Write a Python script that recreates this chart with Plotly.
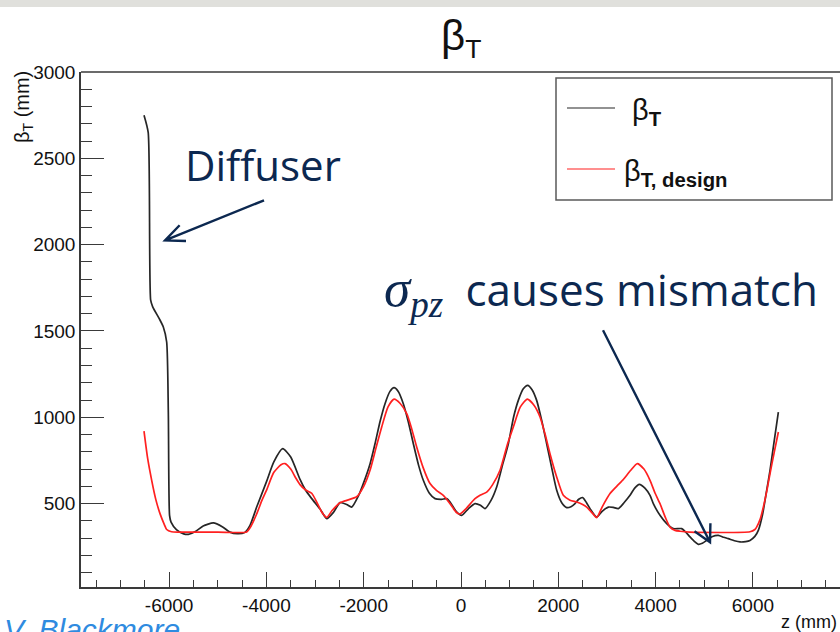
import math
import plotly.graph_objects as go

# Measured transverse beta function along the channel (z in mm, beta_T in mm)
z_beta = [
    -6516, -6430, -6379, -6337, -6200, -6119, -6050, -6016, -5990, -5960,
    -5850, -5700, -5605, -5450, -5300, -5091, -4900, -4750, -4598, -4450,
    -4337, -4200, -3994, -3850, -3665, -3500, -3309, -3200, -3069, -2900,
    -2760, -2620, -2487, -2350, -2247, -2100, -2008, -1870, -1768, -1660,
    -1562, -1460, -1377, -1290, -1186, -1080, -980, -870, -775, -650,
    -534, -400, -294, -226, -100, 14, 150, 288, 400, 493,
    620, 733, 850, 973, 1080, 1178, 1280, 1370, 1460, 1555,
    1660, 1761, 1870, 1967, 2070, 2172, 2260, 2343, 2420, 2501,
    2580, 2652, 2789, 2900, 3028, 3130, 3233, 3350, 3474, 3570,
    3665, 3780, 3885, 3953, 4090, 4228, 4364, 4536, 4620, 4707,
    4800, 4878, 4960, 5050, 5170, 5289, 5400, 5495, 5620, 5735,
    5850, 5940, 6040, 6111, 6200, 6283, 6350, 6420, 6523,
]
beta_t = [
    2750, 2650, 1678, 1640, 1570, 1523, 1436, 1030, 430, 393,
    350, 325, 322, 340, 370, 388, 365, 335, 326, 332,
    374, 480, 630, 740, 818, 770, 640, 580, 529, 470,
    413, 450, 506, 495, 480, 550, 616, 730, 847, 980,
    1079, 1150, 1172, 1150, 1079, 970, 847, 720, 635, 560,
    529, 525, 529, 509, 455, 432, 470, 500, 490, 471,
    520, 596, 720, 847, 1000, 1098, 1165, 1185, 1160, 1098,
    980, 847, 700, 577, 505, 477, 482, 500, 525, 535,
    505, 471, 422, 455, 480, 478, 471, 505, 548, 590,
    612, 590, 548, 500, 432, 384, 355, 355, 335, 307,
    280, 264, 270, 287, 310, 316, 305, 297, 285, 278,
    280, 287, 310, 345, 440, 577, 690, 828, 1030,
]

# Design transverse beta function
z_design = [
    -6516, -6440, -6358, -6270, -6187, -6100, -6050, -5950, -5800, -5000,
    -4405, -4337, -4200, -4090, -3994, -3850, -3700, -3617, -3500, -3400,
    -3309, -3200, -3069, -2950, -2860, -2760, -2650, -2487, -2349, -2144,
    -2000, -1870, -1750, -1630, -1500, -1377, -1250, -1116, -1010, -911,
    -780, -637, -500, -364, -226, -100, -21, 100, 288, 400,
    528, 650, 802, 950, 1075, 1220, 1363, 1500, 1624, 1730,
    1829, 1960, 2103, 2240, 2378, 2500, 2584, 2700, 2789, 2900,
    3063, 3200, 3336, 3480, 3624, 3760, 3885, 3990, 4090, 4200,
    4296, 4400, 4502, 4700, 5940, 6040, 6076, 6150, 6214, 6290,
    6351, 6440, 6523,
]
beta_design = [
    920, 760, 635, 520, 442, 380, 350, 337, 335, 335,
    336, 360, 440, 520, 580, 680, 725, 732, 700, 650,
    610, 580, 560, 500, 450, 420, 460, 505, 519, 540,
    600, 693, 820, 944, 1060, 1105, 1080, 1021, 930, 828,
    710, 616, 575, 548, 500, 450, 440, 470, 529, 550,
    567, 610, 693, 840, 944, 1060, 1105, 1070, 1002, 900,
    789, 660, 548, 520, 509, 495, 480, 445, 419, 480,
    558, 600, 640, 690, 732, 700, 635, 560, 500, 420,
    364, 345, 340, 335, 337, 350, 364, 410, 480, 580,
    673, 800, 915,
]

series_names = ["β<sub><b>T</b></sub>", "β<sub><b>T, design</b></sub>"]
series_colors = ["#262626", "#ff2020"]

x_ticks = [-6000, -4000, -2000, 0, 2000, 4000, 6000]
y_ticks = [500, 1000, 1500, 2000, 2500, 3000]

# Canvas and frame geometry (pixels)
W, H = 840, 632
ML, MR, MT, MB = 81, 0, 72, 45
PW, PH = W - ML - MR, H - MT - MB
X_RANGE = [-7811, 7790]
Y_RANGE = [17, 3000]

NAVY = "#0c2850"
AXC = "#3a3a3a"
FONT = "Liberation Sans"


def pxx(x):
    return (x - ML) / PW


def pxy(y):
    return (H - MB - y) / PH


fig = go.Figure()
fig.add_trace(go.Scatter(x=z_beta, y=beta_t, mode="lines", name=series_names[0],
                         line=dict(color=series_colors[0], width=1.7, shape="spline", smoothing=0.6),
                         showlegend=False))
fig.add_trace(go.Scatter(x=z_design, y=beta_design, mode="lines", name=series_names[1],
                         line=dict(color=series_colors[1], width=1.7, shape="spline", smoothing=0.6),
                         showlegend=False))

shapes = []
# slide band along the top edge
shapes.append(dict(type="rect", xref="paper", yref="paper", x0=pxx(0), x1=pxx(W),
                   y0=pxy(7), y1=pxy(0), fillcolor="#e0e0dc", line=dict(width=0), layer="below"))
# top edge of the frame
shapes.append(dict(type="line", xref="paper", yref="paper", x0=0, x1=1, y0=1, y1=1,
                   line=dict(color=AXC, width=1.5)))
# legend box and samples
shapes.append(dict(type="rect", xref="paper", yref="paper", x0=pxx(556), x1=pxx(832),
                   y0=pxy(200), y1=pxy(78), fillcolor="white", line=dict(color="#5a5a5a", width=1.5)))
for yy, col in zip([108, 169], series_colors):
    shapes.append(dict(type="line", xref="paper", yref="paper", x0=pxx(567), x1=pxx(615),
                       y0=pxy(yy), y1=pxy(yy), line=dict(color=col, width=1.2)))


def arrow(tip_x, tip_y, tail_dx, tail_dy, head=20, half_angle=26):
    back = math.atan2(tail_dy, tail_dx)
    a1 = back + math.radians(half_angle)
    a2 = back - math.radians(half_angle)
    p = (f"M{tail_dx},{tail_dy} L0,0 "
         f"M{head*math.cos(a1):.2f},{head*math.sin(a1):.2f} L0,0 "
         f"L{head*math.cos(a2):.2f},{head*math.sin(a2):.2f}")
    return dict(type="path", xref="x", yref="y", xsizemode="pixel", ysizemode="pixel",
                xanchor=tip_x, yanchor=tip_y, path=p, fillcolor="rgba(0,0,0,0)",
                line=dict(color=NAVY, width=2.4))


shapes.append(arrow(-6084, 2025, 99, 40, head=21, half_angle=24))
shapes.append(arrow(5118, 276, -107, 212, head=19, half_angle=28))

annotations = []
# title
annotations.append(dict(xref="paper", yref="paper", x=0.5, y=pxy(38), xanchor="center",
                        yanchor="middle", showarrow=False,
                        text="<span style=\"font-size:42px\">β</span><sub>T</sub>",
                        font=dict(family=FONT, size=38, color="#111111")))
# y-axis title
annotations.append(dict(xref="paper", yref="paper", x=pxx(24), y=pxy(69), xanchor="center",
                        yanchor="top", showarrow=False, textangle=-90, text="β<sub>T</sub> (mm)",
                        font=dict(family=FONT, size=20, color="#111111")))
# x-axis title
annotations.append(dict(xref="paper", yref="paper", x=pxx(839), y=pxy(622), xanchor="right",
                        yanchor="middle", showarrow=False, text="z (mm)",
                        font=dict(family=FONT, size=18, color="#111111")))
# legend labels
annotations.append(dict(xref="paper", yref="paper", x=pxx(630), y=pxy(112), xanchor="left",
                        yanchor="middle", showarrow=False, text=series_names[0],
                        font=dict(family=FONT, size=29, color="#111111")))
annotations.append(dict(xref="paper", yref="paper", x=pxx(622), y=pxy(173), xanchor="left",
                        yanchor="middle", showarrow=False, text=series_names[1],
                        font=dict(family=FONT, size=29, color="#111111")))
# callouts
annotations.append(dict(xref="paper", yref="paper", x=pxx(263), y=pxy(164), xanchor="center",
                        yanchor="middle", showarrow=False, text="Diffuser",
                        font=dict(family="Open Sans", size=42, color=NAVY)))
annotations.append(dict(xref="paper", yref="paper", x=pxx(382), y=pxy(292), xanchor="left",
                        yanchor="middle", showarrow=False,
                        text=("<span style=\"font-family:'Liberation Serif';font-size:53px\"><i>σ</i>"
                              "<sub><i>pz</i></sub></span>\u2005 causes mismatch"),
                        font=dict(family="Open Sans", size=44, color=NAVY)))
# author credit
annotations.append(dict(xref="paper", yref="paper", x=pxx(2), y=pxy(611), xanchor="left",
                        yanchor="top", showarrow=False, text="<i>V. Blackmore</i>",
                        font=dict(family=FONT, size=30, color="#2f8be0")))

fig.update_layout(
    width=W, height=H,
    margin=dict(l=ML, r=MR, t=MT, b=MB, pad=0),
    paper_bgcolor="white", plot_bgcolor="white",
    showlegend=False,
    shapes=shapes, annotations=annotations,
    xaxis=dict(range=X_RANGE, tickvals=x_ticks, ticktext=[str(v) for v in x_ticks],
               ticks="inside", ticklen=15, tickwidth=1.3, tickcolor=AXC,
               minor=dict(ticks="inside", ticklen=7, tickwidth=1.3, tickcolor=AXC, dtick=500, tick0=0),
               showline=True, linecolor=AXC, linewidth=1.5, showgrid=False, zeroline=False,
               tickfont=dict(family=FONT, size=19, color="#111111")),
    yaxis=dict(range=Y_RANGE, tickvals=y_ticks, ticktext=[str(v) for v in y_ticks],
               ticks="inside", ticklen=23, tickwidth=1.3, tickcolor=AXC,
               minor=dict(ticks="inside", ticklen=11, tickwidth=1.3, tickcolor=AXC, dtick=100, tick0=0),
               showline=True, linecolor=AXC, linewidth=1.5, showgrid=False, zeroline=False,
               tickfont=dict(family=FONT, size=19, color="#111111")),
)

fig.write_html("out.html")
